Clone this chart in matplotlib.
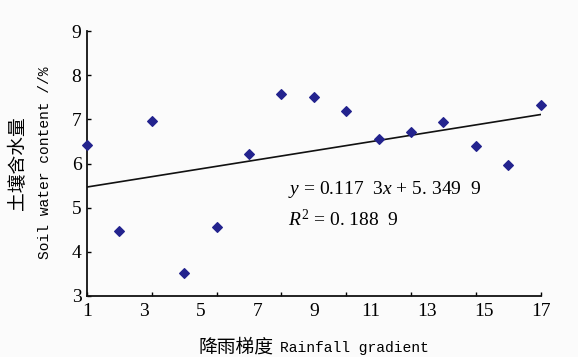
import matplotlib
matplotlib.use("Agg")
import matplotlib.pyplot as plt
import numpy as np

plt.rcParams['font.family'] = ['Liberation Serif', 'Noto Sans CJK SC']
plt.rcParams['mathtext.fontset'] = 'custom'
plt.rcParams['mathtext.it'] = 'Liberation Serif:italic'
plt.rcParams['mathtext.rm'] = 'Liberation Serif'

# data: soil water content at 15 sample points along the rainfall gradient
idx = np.arange(1, 16)
water = [6.42, 4.47, 6.96, 3.52, 4.56, 6.22, 7.58, 7.51, 7.20,
         6.56, 6.71, 6.94, 6.40, 5.96, 7.32]
slope, intercept = 0.1173, 5.3499
r2 = 0.1889

# tick labels printed on the x axis (spaced evenly, independent of tick marks)
xlabels = ['1', '3', '5', '7', '9', '11', '13', '15', '17']
yticks = [3, 4, 5, 6, 7, 8, 9]

fig = plt.figure(figsize=(5.78, 3.57), dpi=100)
fig.patch.set_facecolor('#fbfbfb')
ax = fig.add_axes([0.1505, 0.171, 0.785, 0.742])
ax.set_facecolor('#fbfbfb')

ax.scatter(idx, water, marker='D', s=24, color='#23238e', zorder=3, clip_on=False)
xx = np.array([idx[0], idx[-1]])
ax.plot(xx, slope * xx + intercept, color='#111111', lw=1.2)

ax.set_xlim(1, 15)
ax.set_ylim(3, 9)
for s in ['top', 'right']:
    ax.spines[s].set_visible(False)
for s in ['left', 'bottom']:
    ax.spines[s].set_linewidth(1.3)
    ax.spines[s].set_color('#111111')

# tick marks every two samples, labels on evenly spaced minor ticks
ax.xaxis.remove_overlapping_locs = False
ax.set_xticks(np.arange(1, 16, 2))
ax.set_xticklabels([])
ax.set_xticks(np.linspace(1, 15, len(xlabels)), minor=True)
ax.set_xticklabels(xlabels, minor=True, fontsize=14)
ax.tick_params(axis='x', which='major', direction='in', length=3, width=1)
ax.tick_params(axis='x', which='minor', length=0, pad=5)

ax.set_yticks(yticks)
ax.set_yticklabels([str(v) for v in yticks], fontsize=14)
ax.tick_params(axis='y', direction='in', length=3, width=1, pad=4)

# axis titles: Chinese and English parts in different fonts
fig.text(0.473, 0.028, '降雨梯度', fontsize=13.5, family='Noto Sans CJK SC',
         weight='light', ha='right', va='center')
fig.text(0.484, 0.024, 'Rainfall gradient', fontsize=10.5, family='Liberation Mono',
         ha='left', va='center')
fig.text(0.031, 0.543, '土壤含水量', fontsize=13.5, family='Noto Sans CJK SC',
         weight='light', rotation=90, ha='center', va='center')
fig.text(0.078, 0.543, 'Soil water content //%', fontsize=10.5, family='Liberation Mono',
         rotation=90, ha='center', va='center')

ax.text(7.2, 5.42, r'$y$ = 0.117  3$x$ + 5. 349  9', fontsize=14, va='center')
ax.text(7.2, 4.74, r'$R^2$ = 0. 188  9', fontsize=14, va='center')

fig.savefig('out.png', dpi=100, facecolor=fig.get_facecolor())
